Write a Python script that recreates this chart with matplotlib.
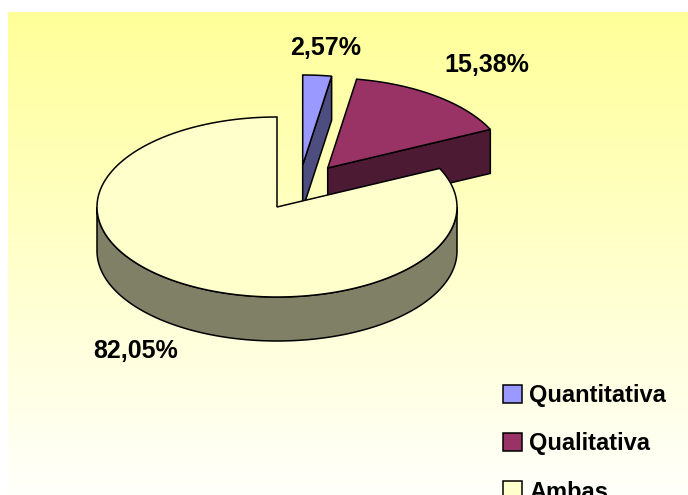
import numpy as np
import matplotlib.pyplot as plt
from matplotlib.patches import Polygon
from matplotlib.colors import LinearSegmentedColormap

categorias = ['Quantitativa', 'Qualitativa', 'Ambas']
valores = [2.57, 15.38, 82.05]
rotulos = ['2,57%', '15,38%', '82,05%']

cor_topo = ['#9999FF', '#993366', '#FFFFCC']
cor_lado = ['#4D4D80', '#4D1A33', '#808066']

# geometria do pie 3D (em pixels)
cx, cy = 277, 207
rx, ry = 180, 90
prof = 44
explode = [(25.7, -42), (50.7, -39), (0, 0)]
pos_rotulo = [(326, 48), (487, 65), (136, 351)]

plt.rcParams['font.family'] = ['Liberation Sans', 'DejaVu Sans']

fig = plt.figure(figsize=(6.88, 4.95), dpi=100)
ax = fig.add_axes([0, 0, 1, 1])
ax.set_xlim(0, 688)
ax.set_ylim(495, 0)
ax.axis('off')

# fundo com degradê amarelo -> branco
cmap = LinearSegmentedColormap.from_list('fundo', ['#FFFF99', '#FFFFFB'])
grad = np.linspace(0, 1, 256).reshape(-1, 1)
ax.imshow(grad, cmap=cmap, aspect='auto', extent=(8, 688, 495, 12), zorder=0)


def ponto(t, ox, oy, dz=0):
    t = np.radians(t)
    return np.column_stack([ox + rx*np.sin(t), oy - ry*np.cos(t) + dz])


total = sum(valores)
ang = np.concatenate([[0], np.cumsum(valores)/total*360])
patches = []
z = 1
lw = 1.1
for i in range(len(valores)):
    a0, a1 = ang[i], ang[i+1]
    ox, oy = cx + explode[i][0], cy + explode[i][1]
    centro = np.array([[ox, oy]])
    # parede externa (parte da frente: 90..270 graus)
    b0, b1 = max(a0, 90), min(a1, 270)
    if b1 > b0:
        tt = np.linspace(b0, b1, 200)
        cima = ponto(tt, ox, oy)
        baixo = ponto(tt[::-1], ox, oy, prof)
        ax.add_patch(Polygon(np.vstack([cima, baixo]), closed=True, fc=cor_lado[i],
                             ec='black', lw=lw, zorder=z))
    # face de corte visivel (borda final, quando esta na metade de tras)
    if 0 < a1 < 90:
        p = ponto([a1], ox, oy)[0]
        face = np.array([[ox, oy], p, p + [0, prof], [ox, oy + prof]])
        ax.add_patch(Polygon(face, closed=True, fc=cor_lado[i], ec='black', lw=lw, zorder=z))
    # topo
    tt = np.linspace(a0, a1, 300)
    topo = np.vstack([centro, ponto(tt, ox, oy)])
    pt = Polygon(topo, closed=True, fc=cor_topo[i], ec='black', lw=lw, zorder=z+1)
    ax.add_patch(pt)
    patches.append(pt)
    ax.text(pos_rotulo[i][0], pos_rotulo[i][1], rotulos[i], fontsize=18, fontweight='bold',
            ha='center', va='center', zorder=10)
    z += 2

ax.legend(patches, categorias, loc='upper left', bbox_to_anchor=(503/688, 1 - 384/495),
          frameon=False, borderpad=0, borderaxespad=0, handlelength=0.8, handleheight=0.8,
          handletextpad=0.3, labelspacing=1.07, prop={'weight': 'bold', 'size': 17})

fig.savefig('out.png', dpi=100)
